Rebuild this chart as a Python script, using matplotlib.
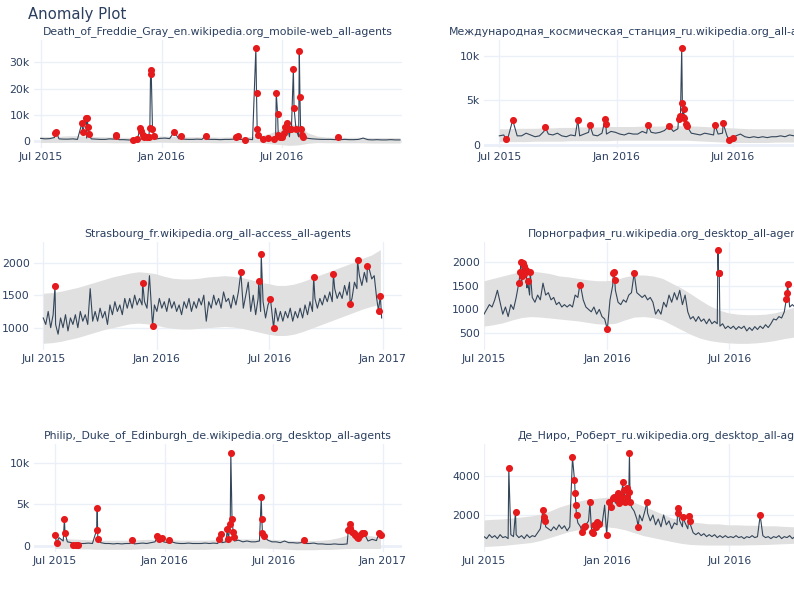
import numpy as np
import pandas as pd
import matplotlib
matplotlib.use('Agg')
import matplotlib.pyplot as plt
import matplotlib.dates as mdates
from matplotlib.ticker import FuncFormatter

START = pd.Timestamp('2015-07-01')
BAND_STEP = 14  # band edges every two weeks

# ---------------- Death_of_Freddie_Gray ----------------
freddie_title = 'Death_of_Freddie_Gray_en.wikipedia.org_mobile-web_all-agents'
freddie_step = 7
freddie_base = [900, 700, 800, 1200, 700,
                600, 600, 700, 500,
                900, 1000, 700, 600, 500,
                500, 700, 600, 400,
                400, 300, 300, 300,
                500, 600, 900, 700, 900,
                1000, 800, 900, 700,
                600, 500, 500, 600,
                500, 600, 500, 500, 400,
                500, 500, 600, 500,
                500, 600, 400, 600,
                500, 600, 700, 600, 900,
                1200, 1500, 1200, 1500,
                1300, 900, 700, 600,
                500, 500, 500, 400, 400,
                500, 400, 400, 500,
                1000, 400, 300, 400,
                300, 300, 400, 300, 300]
freddie_hi = [1700, 1600, 1700, 1900, 1900, 1800, 1600, 1500, 1400, 1300,
              1300, 1500, 1700, 1800, 1700, 1600, 1500, 1500, 1500, 1400,
              1400, 1500, 1500, 1600, 2000, 3000, 4500, 6500, 6000, 3000,
              1800, 1400, 1300, 1300, 1300, 1300, 1200, 1200, 1200, 1200]
freddie_lo = [-700, -700, -600, -500, -500, -600, -700, -700, -800, -800,
              -800, -700, -600, -500, -600, -700, -700, -700, -700, -800,
              -800, -700, -700, -600, -800, -1200, -1500, -1800, -1600, -1000,
              -700, -800, -800, -800, -800, -800, -900, -900, -900, -900]
freddie_anom_day = [22, 24, 63, 64, 69, 71, 72, 73, 114, 115, 140, 147,
                    151, 153, 155, 157, 161, 164, 166, 167, 168, 170, 172,
                    203, 213, 251, 297, 300, 310, 327, 328, 329, 330,
                    338, 346, 354, 358, 360, 361, 363,
                    367, 370, 372, 374, 376, 379, 381, 384, 385, 388,
                    393, 394, 395, 397, 398, 452]
freddie_anom_val = [2800, 3200, 6900, 3300, 8700, 8800, 5300, 2600, 2100, 1700, 200, 500,
                    4700, 3900, 2200, 1300, 1400, 1300, 5000, 25400, 27200, 4400, 1800,
                    3400, 1800, 1800, 1600, 1700, 400, 35400, 18100, 4300, 2200,
                    500, 900, 500, 18400, 10200, 2300, 1500,
                    1500, 2800, 5100, 6900, 4300, 4300, 4300, 27500, 12600, 4300,
                    34500, 16700, 4300, 2200, 1500, 1400]

# ---------------- Международная космическая станция ----------------
iss_title = 'Международная_космическая_станция_ru.wikipedia.org_all-access_all-agents'
iss_step = 7
iss_base = [1000, 1100, 900, 1200, 1000,
            1000, 1300, 1100, 900,
            1000, 1500, 1200, 1100, 1300,
            1000, 900, 1100, 1000,
            1000, 1200, 1400, 1100,
            1000, 1300, 1200, 1500, 1400,
            1200, 1100, 1300, 1200,
            1200, 1500, 1300, 1400,
            1300, 1400, 1600, 1300, 1500,
            1800, 1400, 1200, 1300,
            1200, 1100, 1300, 1200,
            1100, 1200, 1300, 1000, 900,
            1000, 1200, 900, 800,
            900, 800, 900, 800,
            900, 900, 1000, 900, 1100,
            1000, 900, 1000]
iss_hi = [1800, 1800, 1850, 1850, 1850, 1900, 1900, 1950, 1950, 2000,
          2000, 2000, 2050, 2050, 2050, 2050, 2100, 2100, 2100, 2150,
          2150, 2100, 2100, 2050, 2000, 1950, 1900, 1850, 1800, 1800,
          1800, 1800, 1800, 1800, 1800]
iss_lo = [350, 350, 350, 350, 400, 400, 400, 400, 450, 450,
          450, 450, 450, 500, 500, 500, 500, 500, 500, 500,
          500, 500, 450, 400, 350, 300, 250, 250, 250, 250,
          250, 300, 300, 300, 300]
iss_anom_day = [10, 21, 72, 123, 142, 166, 167, 233, 266, 281, 284, 286,
                287, 288, 289, 290, 292, 294, 338, 351, 360, 367]
iss_anom_val = [640, 2780, 1960, 2780, 2180, 2930, 2290, 2180, 2100, 2900, 3200, 10900,
                4700, 3100, 4000, 3000, 2300, 2100, 2250, 2400, 560, 750]

# ---------------- Strasbourg ----------------
stras_title = 'Strasbourg_fr.wikipedia.org_all-access_all-agents'
stras_step = 4
stras_base = [1150, 1050, 1250, 1000, 1200, 1050, 900, 1150, 1000, 1200,
              950, 1150, 1050, 1200, 1000, 1250, 1100, 1200, 1050, 1600,
              1100, 1250, 1100, 1300, 1150, 1250, 1050, 1350, 1200, 1400,
              1250, 1350, 1200, 1450, 1300, 1450, 1300, 1500, 1350, 1450,
              1350, 1400, 1300, 1800, 1200, 1350, 1250, 1450, 1300, 1400,
              1250, 1450, 1300, 1400, 1250, 1350, 1200, 1400, 1300, 1450,
              1250, 1400, 1300, 1450, 1350, 1500, 1100, 1400, 1300, 1500,
              1350, 1450, 1300, 1550, 1400, 1450, 1300, 1500, 1350, 1550,
              1400, 1300, 1500, 1700, 1250, 1500, 1200, 1450, 1250, 1400,
              1150, 1350, 1200, 1100, 1300, 1100, 1250, 1100, 1250, 1150,
              1300, 1100, 1250, 1150, 1300, 1150, 1350, 1200, 1400, 1250,
              1450, 1300, 1450, 1350, 1500, 1400, 1550, 1400, 1600, 1450,
              1550, 1450, 1650, 1500, 1700, 1450, 1700, 1600, 1800, 1650,
              1850, 1700, 1900, 1750, 1800, 1450, 1350, 1150]
stras_lo = [760, 770, 790, 820, 850, 890, 930, 970, 1000, 1030,
            1060, 1070, 1060, 1040, 1010, 990, 980, 980, 990, 1000,
            1010, 1020, 1010, 990, 960, 930, 900, 880, 880, 900,
            940, 990, 1040, 1090, 1140, 1190, 1240, 1290, 1330, 1360]
stras_hi = [1530, 1540, 1560, 1590, 1620, 1660, 1700, 1740, 1780, 1810,
            1840, 1860, 1850, 1830, 1790, 1760, 1750, 1750, 1760, 1780,
            1790, 1800, 1790, 1770, 1740, 1700, 1680, 1650, 1650, 1670,
            1710, 1760, 1810, 1860, 1910, 1960, 2010, 2070, 2120, 2200]
stras_anom_day = [19, 161, 177, 320, 349, 353, 368, 373, 438, 470, 497, 509, 525, 543, 546]
stras_anom_val = [1640, 1690, 1030, 1850, 1720, 2130, 1440, 1000, 1775, 1820, 1365, 2035,
                  1950, 1255, 1490]

# ---------------- Порнография ----------------
porn_title = 'Порнография_ru.wikipedia.org_desktop_all-agents'
porn_step = 4
porn_base = [900, 1000, 1100, 1050, 1200, 1400, 1150, 900, 1050, 850,
             1100, 1000, 1250, 1300, 1500, 1400, 1450, 1300, 1250, 1150,
             1300, 1200, 1550, 1300, 1350, 1200, 1250, 1100, 1150, 1050,
             1100, 1050, 1100, 1050, 1300, 1250, 1500, 1200, 1050, 1000,
             950, 1050, 900, 1000, 850, 800, 700, 1200, 1500, 1400,
             1150, 1100, 1200, 1150, 1300, 1350, 1500, 1350, 1300, 1250,
             1300, 1200, 1250, 1150, 900, 1000, 900, 1150, 1050, 1300,
             1150, 1350, 1200, 1400, 1100, 1300, 950, 800, 850, 750,
             850, 750, 800, 700, 800, 700, 750, 700, 650, 700,
             600, 650, 600, 650, 580, 640, 600, 650, 550, 620,
             560, 640, 580, 650, 600, 680, 620, 700, 800, 780,
             850, 820, 950, 1100, 1050, 1100, 1050, 1150]
porn_hi = [1600, 1650, 1700, 1750, 1800, 1800, 1780, 1750, 1700, 1680,
           1650, 1620, 1600, 1600, 1620, 1680, 1720, 1720, 1700, 1650,
           1550, 1450, 1330, 1200, 1080, 990, 930, 900, 890, 890,
           900, 930, 980, 1040, 1100]
porn_lo = [650, 680, 720, 780, 830, 850, 840, 820, 800, 780,
           760, 730, 700, 690, 710, 780, 840, 850, 830, 780,
           680, 580, 480, 400, 350, 320, 300, 290, 290, 300,
           320, 350, 390, 420, 450]
porn_anom_day = [52, 54, 55, 57, 58, 59, 60, 63, 65, 69, 143, 184, 193, 194, 195, 224,
                 349, 350, 351, 451, 452, 453]
porn_anom_val = [1560, 1780, 1990, 1700, 1980, 1740, 1910, 1830, 1600, 1780, 1520, 584,
                 1760, 1790, 1620, 1760, 2245, 1770, 1760, 1210, 1350, 1530]

# ---------------- Philip, Duke of Edinburgh ----------------
philip_title = 'Philip,_Duke_of_Edinburgh_de.wikipedia.org_desktop_all-agents'
philip_step = 7
philip_base = [700, 1000, 600, 500, 400,
               350, 300, 300, 350,
               300, 300, 400, 300, 300,
               250, 300, 250, 300,
               300, 250, 300, 350,
               300, 400, 500, 450, 500,
               400, 500, 350, 300,
               300, 350, 300, 300,
               300, 350, 300, 350, 300,
               400, 500, 700, 600,
               700, 500, 600, 500,
               500, 600, 450, 700, 500,
               500, 400, 600, 400,
               400, 350, 400, 300,
               300, 350, 250, 250, 200,
               200, 250, 200, 200,
               250, 1800, 900, 1100,
               700, 600, 800, 650, 700]
philip_hi = [900, 900, 850, 800, 750, 700, 700, 700, 700, 700,
             750, 800, 800, 800, 750, 700, 700, 700, 700, 750,
             800, 850, 850, 850, 850, 850, 800, 750, 700, 650,
             650, 650, 700, 800, 1000, 1300, 1400, 1300, 1200, 1100]
philip_lo = [-300, -300, -300, -350, -350, -400, -400, -400, -400, -400,
             -350, -300, -300, -300, -350, -400, -400, -400, -400, -350,
             -300, -250, -250, -250, -250, -250, -300, -350, -400, -450,
             -450, -450, -400, -400, -350, -300, -300, -300, -300, -300]
philip_anom_day = [0, 3, 16, 17, 31, 35, 38, 70, 71, 72, 130, 172, 174, 179, 192,
                   276, 279, 289, 291, 294, 295, 297, 299, 300,
                   346, 347, 348, 350, 418,
                   492, 494, 495, 498, 501, 504, 506, 509, 512, 515, 518, 544, 546]
philip_anom_val = [1280, 400, 3240, 1520, 160, 160, 160, 1920, 4520, 800, 720, 1200, 880, 960, 720,
                   840, 1480, 2040, 840, 2600, 11200, 3240, 1680, 1120,
                   5840, 3200, 1600, 1200, 720,
                   1920, 2640, 2200, 1720, 1520, 1320, 1120, 920, 1320, 1520, 1600, 1600, 1280]

# ---------------- Де Ниро, Роберт ----------------
deniro_title = 'Де_Ниро,_Роберт_ru.wikipedia.org_desktop_all-agents'
deniro_step = 4
deniro_base = [900, 800, 1000, 850, 950, 800, 1000, 850, 900, 800,
               1000, 900, 1000, 850, 950, 800, 1000, 850, 950, 900,
               1100, 1300, 1500, 1400, 1300, 1200, 1400, 1250, 1500, 1300,
               1450, 1200, 1400, 1300, 2000, 1600, 1400, 1300, 1500, 1700,
               1400, 1600, 1300, 1700, 1500, 2500, 1500, 2500, 2800, 2600,
               2900, 2700, 3000, 2800, 2900, 2400, 2200, 1800, 2000, 1700,
               2200, 2100, 1700, 2000, 1500, 1800, 1400, 2000, 1500, 1700,
               1300, 1600, 1500, 1700, 1400, 1600, 1300, 1500, 1100, 1000,
               1100, 950, 1050, 900, 1000, 900, 1000, 850, 950, 850,
               950, 850, 900, 850, 950, 850, 900, 800, 900, 850,
               950, 850, 900, 850, 950, 850, 900, 800, 900, 850,
               950, 800, 900, 850, 950, 800, 900, 850]
deniro_hi = [1750, 1780, 1800, 1850, 1900, 1950, 2050, 2200, 2400, 2550,
             2700, 2800, 2850, 2900, 2900, 2800, 2650, 2450, 2250, 2050,
             1850, 1750, 1650, 1600, 1550, 1550, 1500, 1500, 1480, 1480,
             1450, 1450, 1420, 1400, 1400]
deniro_lo = [400, 420, 450, 500, 550, 600, 700, 850, 1000, 1150,
             1250, 1350, 1400, 1400, 1350, 1250, 1100, 950, 850, 750,
             650, 560, 500, 480, 470, 470, 470, 470, 480, 490,
             500, 520, 540, 560, 580]
deniro_anom_day = [37, 47, 88, 90, 91, 132, 135, 136, 137, 138, 146, 149, 151, 158, 161, 162,
                   164, 167, 169, 171, 183, 187, 189, 192, 194, 198, 200, 202, 204, 205,
                   207, 209, 211, 213, 214, 216, 217, 218, 230, 243, 289, 290, 297, 306, 307, 412]
deniro_anom_val = [4370, 2140, 2250, 1920, 1710, 4930, 3780, 3140, 2490, 1980, 1140, 1410, 1440,
                   2660, 1150, 1070, 1490, 1370, 1660, 1540, 980, 2680, 2420, 2850, 2930, 2830,
                   3100, 2590, 2970, 2730, 3700, 3270, 2680, 3360, 2930, 3190, 5140, 2680, 1410,
                   2640, 2340, 2120, 1880, 1950, 1710, 1980]

TEXT = '#2a3f5f'
GRID = '#ebf0f8'

W, H = 794, 600
COL_X = [34, 484]
ROW_Y = [40, 242, 444]
AX_W, AX_H = 368, 108

plt.rcParams['font.family'] = ['DejaVu Sans']
fig = plt.figure(figsize=(W / 100, H / 100), dpi=100)
fig.patch.set_facecolor('white')

fig.text(28 / W, 1 - 15 / H, 'Anomaly Plot', fontsize=10.7, color=TEXT, va='center', ha='left')


def to_dates(days):
    return START + pd.to_timedelta(np.asarray(days, dtype=float), unit='D')


panels = [
    dict(title=freddie_title, base=freddie_base, step=freddie_step, lo=freddie_lo, hi=freddie_hi,
         ad=freddie_anom_day, av=freddie_anom_val, pos=(0, 0), xl=(-10, 549), yl=(-2800, 38600),
         yt=[0, 10000, 20000, 30000]),
    dict(title=iss_title, base=iss_base, step=iss_step, lo=iss_lo, hi=iss_hi,
         ad=iss_anom_day, av=iss_anom_val, pos=(1, 0), xl=(-24, 553), yl=(-370, 11800),
         yt=[0, 5000, 10000]),
    dict(title=stras_title, base=stras_base, step=stras_step, lo=stras_lo, hi=stras_hi,
         ad=stras_anom_day, av=stras_anom_val, pos=(0, 1), xl=(-15, 581), yl=(657, 2318),
         yt=[1000, 1500, 2000]),
    dict(title=porn_title, base=porn_base, step=porn_step, lo=porn_lo, hi=porn_hi,
         ad=porn_anom_day, av=porn_anom_val, pos=(1, 1), xl=(0, 549), yl=(151, 2410),
         yt=[500, 1000, 1500, 2000]),
    dict(title=philip_title, base=philip_base, step=philip_step, lo=philip_lo, hi=philip_hi,
         ad=philip_anom_day, av=philip_anom_val, pos=(0, 2), xl=(-35, 582), yl=(-720, 12240),
         yt=[0, 5000, 10000]),
    dict(title=deniro_title, base=deniro_base, step=deniro_step, lo=deniro_lo, hi=deniro_hi,
         ad=deniro_anom_day, av=deniro_anom_val, pos=(1, 2), xl=(0, 549), yl=(118, 5610),
         yt=[2000, 4000]),
]

for p in panels:
    col, row = p['pos']
    x0, y0 = COL_X[col], ROW_Y[row]
    ax = fig.add_axes([x0 / W, 1 - (y0 + AX_H) / H, AX_W / W, AX_H / H])

    # series line = regular samples + anomaly points
    base = pd.Series(p['base'], index=np.arange(len(p['base'])) * p['step'], dtype=float)
    anom = pd.Series(p['av'], index=p['ad'], dtype=float)
    line = anom.combine_first(base).sort_index()

    band_days = np.arange(len(p['lo'])) * BAND_STEP
    ax.fill_between(to_dates(band_days), p['lo'], p['hi'], color='#e0e0e0', lw=0, zorder=1)
    ax.plot(to_dates(line.index), line.values, color='#34465a', lw=0.8, zorder=2)
    ax.scatter(to_dates(p['ad']), p['av'], s=26, color='#e41a1c', lw=0, zorder=3)

    ax.set_xlim(mdates.date2num(to_dates([p['xl'][0]])[0]), mdates.date2num(to_dates([p['xl'][1]])[0]))
    ax.set_ylim(*p['yl'])
    ax.set_yticks(p['yt'])
    use_k = max(p['yt']) >= 10000
    ax.yaxis.set_major_formatter(FuncFormatter(
        lambda v, pos, k=use_k: ('%dk' % (v / 1000) if (k and v != 0) else '%d' % v)))
    ax.xaxis.set_major_locator(mdates.MonthLocator(bymonth=[1, 7]))
    ax.xaxis.set_major_formatter(mdates.DateFormatter('%b %Y'))

    for s in ax.spines.values():
        s.set_visible(False)
    ax.grid(True, color=GRID, lw=1)
    ax.set_axisbelow(True)
    if p['yl'][0] < 0:
        ax.axhline(0, color=GRID, lw=2, zorder=0.5)
    ax.tick_params(length=0, labelsize=7.8, labelcolor=TEXT, pad=3)
    ax.set_title(p['title'], fontsize=7.85, color=TEXT, pad=4)

fig.savefig('out.png', dpi=100)
